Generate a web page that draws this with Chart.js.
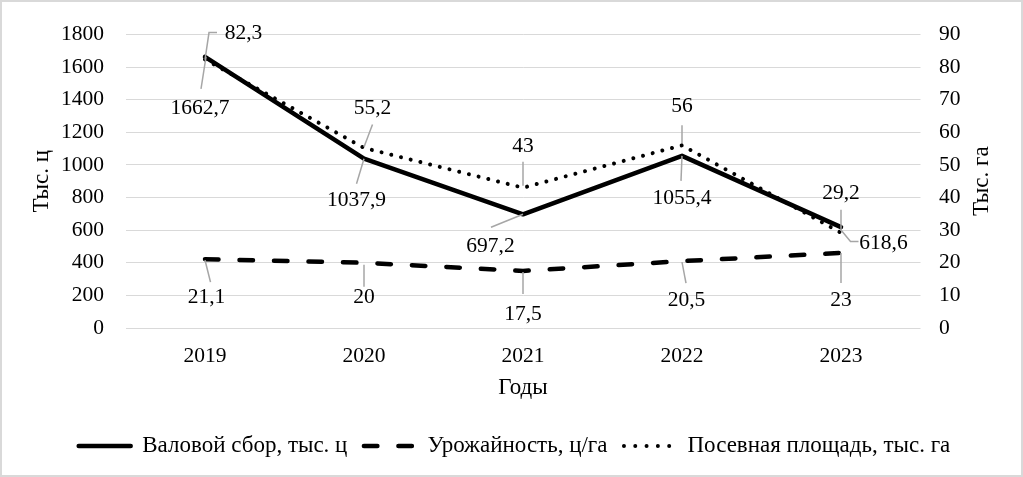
<!DOCTYPE html>
<html>
<head>
<meta charset="utf-8">
<script src="https://cdn.jsdelivr.net/npm/chart.js@4"></script>
<style>
html,body{margin:0;padding:0;background:#fff;}
canvas{display:block;}
</style>
</head>
<body>
<canvas id="c" width="1023" height="477"></canvas>
<script>
const years = ['2019', '2020', '2021', '2022', '2023'];
const grossHarvest = [1662.7, 1037.9, 697.2, 1055.4, 618.6];
const yieldPerHa = [21.1, 20, 17.5, 20.5, 23];
const sownArea = [82.3, 55.2, 43, 56, 29.2];
const seriesNames = ['Валовой сбор, тыс. ц', 'Урожайность, ц/га', 'Посевная площадь, тыс. га'];
const leftAxisTitle = 'Тыс. ц';
const rightAxisTitle = 'Тыс. га';
const xAxisTitle = 'Годы';

// label placement relative to each point: [dx, dy, leader polyline]
const labelPlacement = [
  [
    [-5, 52, [[1, 0], [-4, 32]]],
    [-7.5, 42, [[0, 0], [-7.5, 25]]],
    [-32.5, 32, [[0, 0], [-32, 13]]],
    [0, 43, [[0, 0], [-1, 25]]],
    [42.5, 16.5, [[0, 3], [9.5, 14.5], [17.5, 14.5]]]
  ],
  [
    [1.5, 38, [[0, 1], [5.5, 23]]],
    [0, 35, [[0, 2], [0, 24]]],
    [0, 43, [[0, 1], [0, 23]]],
    [4.5, 39, [[0, 1], [4, 22]]],
    [0, 47.7, [[0, 0], [0, 30]]]
  ],
  [
    [38.5, -26, [[0, 0], [4, -27], [12, -27]]],
    [8.5, -39.5, [[0, -1], [8.5, -23.5]]],
    [0, -41, [[0, -2], [0, -26]]],
    [0, -39, [[0, -2], [0, -20]]],
    [0, -39.5, [[0, -2], [0, -23]]]
  ]
];

const FONT = "'Liberation Serif', 'Times New Roman', serif";
const FS = 21.5;   // ticks and data labels
const FT = 23;     // titles and legend
Chart.defaults.font.family = FONT;
Chart.defaults.font.size = FS;
Chart.defaults.color = '#000';

const fmt = v => String(v).replace('.', ',');

const framePlugin = {
  id: 'frame',
  afterLayout(chart) {
    if (chart.legend) { chart.legend.left += 3; chart.legend.right += 3; }
  },
  beforeDraw(chart) {
    const ctx = chart.ctx;
    ctx.save();
    ctx.fillStyle = '#fff';
    ctx.fillRect(0, 0, chart.width, chart.height);
    ctx.restore();
  },
  afterDraw(chart) {
    const ctx = chart.ctx;
    ctx.save();
    ctx.strokeStyle = '#d9d9d9';
    ctx.lineWidth = 2;
    ctx.strokeRect(1, 1, chart.width - 2, chart.height - 2);
    // right axis title, reading bottom to top
    const a = chart.chartArea;
    ctx.translate(982, (a.top + a.bottom) / 2);
    ctx.rotate(-Math.PI / 2);
    ctx.font = FT + 'px ' + FONT;
    ctx.fillStyle = '#000';
    ctx.textAlign = 'center';
    ctx.textBaseline = 'middle';
    ctx.fillText(rightAxisTitle, 0, 0);
    ctx.restore();
  }
};

const labelPlugin = {
  id: 'leaderLabels',
  afterDatasetsDraw(chart) {
    const ctx = chart.ctx;
    ctx.save();
    chart.data.datasets.forEach((ds, di) => {
      const meta = chart.getDatasetMeta(di);
      meta.data.forEach((pt, i) => {
        const [dx, dy, path] = labelPlacement[di][i];
        ctx.beginPath();
        path.forEach(([px, py], k) => {
          if (k === 0) ctx.moveTo(pt.x + px, pt.y + py);
          else ctx.lineTo(pt.x + px, pt.y + py);
        });
        ctx.strokeStyle = '#a6a6a6';
        ctx.lineWidth = 1.5;
        ctx.setLineDash([]);
        ctx.stroke();
        ctx.font = FS + 'px ' + FONT;
        ctx.fillStyle = '#000';
        ctx.textAlign = 'center';
        ctx.textBaseline = 'middle';
        ctx.fillText(fmt(ds.data[i]), pt.x + dx, pt.y + dy);
      });
    });
    ctx.restore();
  }
};

new Chart(document.getElementById('c'), {
  type: 'line',
  data: {
    labels: years,
    datasets: [
      {
        label: seriesNames[0], data: grossHarvest, yAxisID: 'y',
        borderColor: '#000', backgroundColor: '#000', borderWidth: 4.5,
        borderJoinStyle: 'round', borderCapStyle: 'round',
        pointRadius: 0, tension: 0, fill: false,
        legendDash: []
      },
      {
        label: seriesNames[1], data: yieldPerHa, yAxisID: 'y1',
        borderColor: '#000', backgroundColor: '#000', borderWidth: 4.5,
        borderDash: [13.5, 21], borderJoinStyle: 'round', borderCapStyle: 'round',
        pointRadius: 0, tension: 0, fill: false,
        legendDash: [13.5, 21]
      },
      {
        label: seriesNames[2], data: sownArea, yAxisID: 'y1',
        borderColor: '#000', backgroundColor: '#000', borderWidth: 4,
        borderDash: [0.001, 10], borderJoinStyle: 'round', borderCapStyle: 'round',
        pointRadius: 0, tension: 0, fill: false,
        legendDash: [0.001, 11.3]
      }
    ]
  },
  options: {
    responsive: false,
    animation: false,
    devicePixelRatio: 1,
    layout: { padding: { top: 24, bottom: 9.5, left: 0, right: 0 } },
    plugins: {
      tooltip: { enabled: false },
      legend: {
        position: 'bottom',
        labels: {
          usePointStyle: true,
          pointStyleWidth: 52,
          padding: 16.5,
          color: '#000',
          font: { size: FT, family: FONT },
          generateLabels(chart) {
            return chart.data.datasets.map((ds, i) => ({
              text: ds.label,
              fillStyle: 'rgba(0,0,0,0)',
              strokeStyle: '#000',
              lineWidth: ds.borderWidth,
              lineDash: ds.legendDash,
              lineCap: 'round',
              pointStyle: 'line',
              hidden: false,
              datasetIndex: i,
              fontColor: '#000'
            }));
          }
        }
      }
    },
    scales: {
      x: {
        type: 'category',
        offset: true,
        grid: { display: false, drawTicks: false },
        border: { display: false },
        ticks: { padding: 15, color: '#000', font: { size: FS } },
        title: { display: true, text: xAxisTitle, color: '#000', font: { size: FT }, padding: { top: 4, bottom: 16.5 } },
        afterFit(s) { s.height = 90; }
      },
      y: {
        position: 'left',
        min: 0, max: 1800,
        ticks: { stepSize: 200, padding: 21.5, color: '#000', font: { size: FS }, callback: v => String(v) },
        grid: { color: '#d9d9d9', lineWidth: 1, drawTicks: false },
        border: { display: false },
        title: { display: true, text: leftAxisTitle, color: '#000', font: { size: FT }, padding: { top: 28, bottom: 4 } },
        afterFit(s) { s.width = 125.5; }
      },
      y1: {
        position: 'right',
        min: 0, max: 90,
        ticks: { stepSize: 10, padding: 18.5, color: '#000', font: { size: FS }, callback: v => String(v) },
        grid: { display: false, drawTicks: false },
        border: { display: false },
        afterFit(s) { s.width = 102.5; }
      }
    }
  },
  plugins: [framePlugin, labelPlugin]
});
</script>
</body>
</html>
